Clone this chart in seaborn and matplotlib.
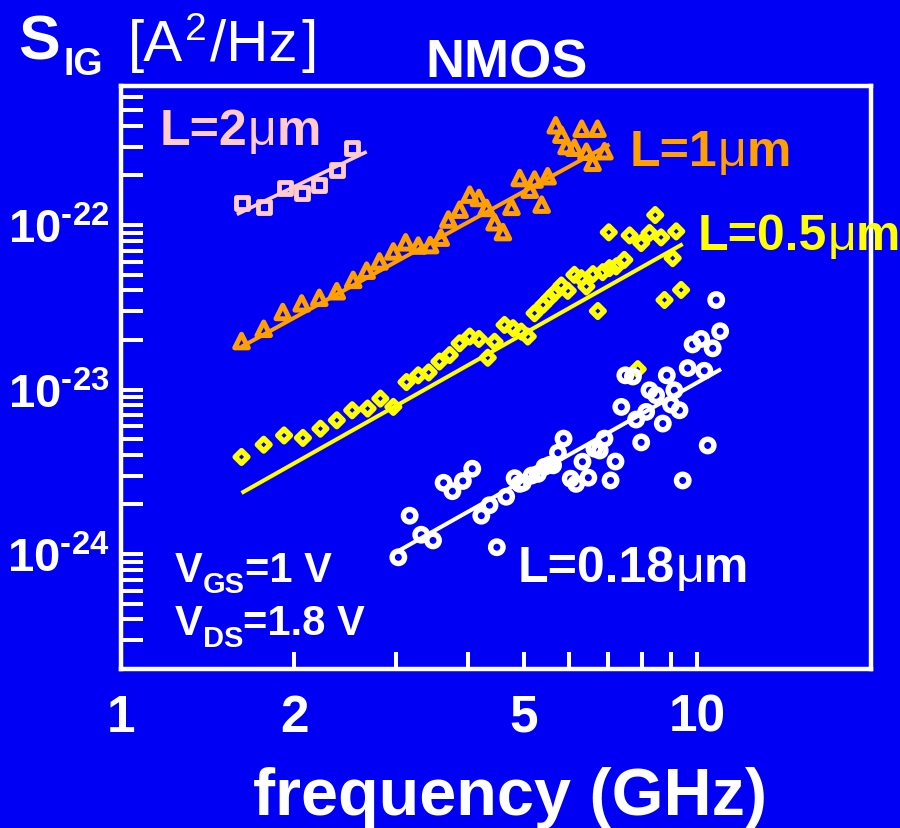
import matplotlib
matplotlib.use("Agg")
import matplotlib.pyplot as plt
import seaborn as sns
import numpy as np
from matplotlib.transforms import IdentityTransform
from matplotlib.ticker import FixedLocator, FixedFormatter, LogLocator, NullFormatter

# ---------------------------------------------------------------- data
# gate current noise S_IG [A^2/Hz] versus frequency [GHz], NMOS, four gate lengths
f_2um = [1.62, 1.77, 1.93, 2.06, 2.21, 2.37, 2.52]
s_2um = [1.36e-22, 1.28e-22, 1.68e-22, 1.57e-22, 1.76e-22, 2.17e-22, 2.92e-22]

f_1um = [1.62, 1.77, 1.91, 2.06, 2.21, 2.37, 2.53, 2.67, 2.81, 2.97,
         3.12, 3.28, 3.44, 3.59, 3.70, 3.87, 4.03, 4.18, 4.31, 4.45,
         4.60, 4.76, 4.92, 5.12, 5.22, 5.37, 5.50, 5.68, 5.81, 5.93,
         6.12, 6.30, 6.42, 6.58, 6.71, 6.90]
s_1um = [1.97e-23, 2.34e-23, 2.96e-23, 3.34e-23, 3.61e-23, 3.96e-23, 4.64e-23, 5.28e-23, 6.01e-23, 6.91e-23,
         7.85e-23, 7.50e-23, 7.55e-23, 8.38e-23, 1.08e-22, 1.24e-22, 1.53e-22, 1.46e-22, 1.27e-22, 1.04e-22,
         9.06e-23, 1.29e-22, 1.93e-22, 1.64e-22, 1.89e-22, 1.33e-22, 1.98e-22, 4.04e-22, 3.54e-22, 3.02e-22,
         2.95e-22, 3.85e-22, 2.79e-22, 2.39e-22, 3.85e-22, 2.81e-22]

f_05um = [1.62, 1.77, 1.92, 2.07, 2.22, 2.37, 2.52, 2.68, 2.82, 2.97,
          3.13, 3.28, 3.42, 3.57, 3.72, 3.87, 4.03, 4.18, 4.33, 4.45,
          4.63, 4.79, 4.95, 5.08, 5.22, 5.40, 5.54, 5.65, 5.81, 5.96,
          6.12, 6.29, 6.42, 6.59, 6.72, 6.85, 7.04, 7.23, 7.47, 7.02,
          7.63, 7.99, 8.26, 8.45, 8.65, 9.19, 9.06, 8.77, 9.37, 7.88]
s_05um = [3.89e-24, 4.62e-24, 5.26e-24, 5.08e-24, 5.78e-24, 6.50e-24, 7.48e-24, 7.66e-24, 8.81e-24, 7.84e-24,
          1.11e-23, 1.22e-23, 1.27e-23, 1.48e-23, 1.62e-23, 1.91e-23, 2.10e-23, 2.03e-23, 1.56e-23, 1.95e-23,
          2.47e-23, 2.36e-23, 2.25e-23, 2.10e-23, 2.91e-23, 3.27e-23, 3.59e-23, 3.85e-23, 4.29e-23, 3.98e-23,
          4.98e-23, 4.75e-23, 4.23e-23, 5.03e-23, 3.00e-23, 5.17e-23, 5.47e-23, 5.60e-23, 6.14e-23, 9.03e-23,
          8.65e-23, 7.77e-23, 8.94e-23, 1.15e-22, 8.41e-23, 9.15e-23, 6.29e-23, 3.50e-23, 4.03e-23, 1.33e-23]

f_018um = [3.03, 3.17, 3.32, 3.48, 3.63, 3.76, 3.92, 4.07, 4.22, 4.36,
           4.49, 4.66, 4.82, 4.92, 4.98, 5.16, 5.29, 5.43, 5.54, 5.62,
           5.73, 5.86, 6.03, 6.16, 6.32, 6.47, 6.63, 6.77, 6.90, 7.07,
           7.21, 7.38, 7.50, 7.73, 7.83, 7.99, 8.15, 8.26, 8.48, 8.71,
           8.85, 9.00, 9.12, 9.31, 9.43, 9.62, 9.81, 10.15, 10.28, 10.42,
           10.63, 10.78, 10.95]
s_018um = [9.55e-25, 1.71e-24, 1.31e-24, 1.21e-24, 2.71e-24, 2.41e-24, 2.78e-24, 3.30e-24, 1.71e-24, 1.98e-24,
           1.10e-24, 2.23e-24, 2.89e-24, 2.67e-24, 2.71e-24, 3.00e-24, 3.07e-24, 3.39e-24, 3.48e-24, 3.46e-24,
           4.13e-24, 5.03e-24, 2.87e-24, 2.67e-24, 3.64e-24, 2.91e-24, 4.37e-24, 4.26e-24, 5.03e-24, 2.80e-24,
           3.65e-24, 7.84e-24, 1.22e-23, 1.20e-23, 6.57e-24, 4.77e-24, 7.31e-24, 9.90e-24, 9.23e-24, 6.21e-24,
           1.22e-23, 8.10e-24, 9.90e-24, 7.48e-24, 2.80e-24, 1.35e-23, 1.88e-23, 2.03e-23, 1.30e-23, 4.57e-24,
           1.78e-23, 3.50e-23, 2.26e-23]

# power-law fit lines (end points)
fit_f_2um = [1.59, 2.67]
fit_s_2um = [1.16e-22, 2.79e-22]
fit_f_1um = [1.62, 7.04]
fit_s_1um = [1.82e-23, 3.09e-22]
fit_f_05um = [1.62, 9.43]
fit_s_05um = [2.35e-24, 7.66e-23]
fit_f_018um = [3.01, 10.99]
fit_s_018um = [1.03e-24, 1.33e-23]

# axes
x_ticks = [1, 2, 5, 10]
x_tick_labels = ["1", "2", "5", "10"]
x_minor = [3, 4, 6, 7, 8, 9]
y_ticks = [1e-24, 1e-23, 1e-22]
y_tick_labels = [r"$\mathbf{10}^{\text{-24}}$", r"$\mathbf{10}^{\text{-23}}$", r"$\mathbf{10}^{\text{-22}}$"]

# ---------------------------------------------------------------- style
BLUE = "#0000F5"
PINK = "#FFCCCC"
ORANGE = "#FF9F00"
YELLOW = "#FFFF00"
WHITE = "#FFFFFF"

sns.set_theme(style="ticks")
plt.rcParams["font.family"] = ["Liberation Sans", "DejaVu Sans"]
plt.rcParams["mathtext.fontset"] = "custom"
plt.rcParams["mathtext.rm"] = "Liberation Sans:bold"
plt.rcParams["mathtext.bf"] = "Liberation Sans:bold"
plt.rcParams["mathtext.it"] = "Liberation Sans:bold"

W, H = 900, 829
fig = plt.figure(figsize=(W / 100, H / 100), dpi=100, facecolor=BLUE)
ax = fig.add_axes([120.7 / W, 1 - 670 / H, (871 - 120.7) / W, (670 - 87) / H], facecolor=BLUE)
ax.set_xscale("log")
ax.set_yscale("log")

# ---------------------------------------------------------------- marks
def points(f, s, marker, size, lw, color):
    sns.scatterplot(x=f, y=s, marker=marker, s=size, color=color, facecolor="none",
                    edgecolor=color, linewidth=lw, ax=ax, zorder=3, legend=False)

def fit(f, s, color, lw):
    sns.lineplot(x=f, y=s, color=color, linewidth=lw, ax=ax, zorder=4,
                 legend=False, solid_capstyle="butt")

points(f_2um, s_2um, "s", 75, 3.5, PINK)
points(f_1um, s_1um, "^", 95, 3.6, ORANGE)
points(f_05um, s_05um, "D", 42, 3.9, YELLOW)
points(f_018um, s_018um, "o", 80, 3.9, WHITE)

fit(fit_f_2um, fit_s_2um, PINK, 2.6)
fit(fit_f_1um, fit_s_1um, ORANGE, 2.9)
fit(fit_f_05um, fit_s_05um, YELLOW, 2.9)
fit(fit_f_018um, fit_s_018um, WHITE, 2.9)

# ---------------------------------------------------------------- axes
ax.set_xlim(1, 20)
ax.set_ylim(2e-25, 7e-22)

ax.xaxis.set_major_locator(FixedLocator(x_ticks))
ax.xaxis.set_major_formatter(FixedFormatter(x_tick_labels))
ax.xaxis.set_minor_locator(FixedLocator(x_minor))
ax.xaxis.set_minor_formatter(NullFormatter())
ax.yaxis.set_major_locator(FixedLocator(y_ticks))
ax.yaxis.set_major_formatter(FixedFormatter(y_tick_labels))
ax.yaxis.set_minor_locator(LogLocator(base=10, subs=np.arange(2, 10), numticks=30))
ax.yaxis.set_minor_formatter(NullFormatter())

ax.tick_params(which="both", direction="in", colors=WHITE, width=2.9,
               top=False, right=False)
ax.tick_params(axis="x", which="both", length=12, pad=17, labelsize=37)
ax.tick_params(axis="y", which="both", length=16, pad=8, labelsize=34)
for lab in ax.get_xticklabels():
    lab.set_fontweight("bold")

for side in ["left", "right", "top", "bottom"]:
    ax.spines[side].set_color(WHITE)
    ax.spines[side].set_linewidth(3.2)
    ax.spines[side].set_zorder(2)

ax.set_xlabel("frequency (GHz)", fontsize=48, fontweight="bold", color=WHITE)
ax.xaxis.set_label_coords((510 - 120.7) / (871 - 120.7), (670 - 815) / (670 - 87))
ax.xaxis.label.set_verticalalignment("baseline")
ax.set_ylabel("")

# ---------------------------------------------------------------- text
renderer = fig.canvas.get_renderer()

def text_runs(x, y, parts, color):
    """Write consecutive pieces of text on one baseline (pixel coordinates, y downwards);
    each piece is (string, size, weight, baseline shift, gap before)."""
    for s, size, weight, dy, gap in parts:
        t = fig.text(x + gap, H - (y + dy), s, fontsize=size, fontweight=weight, color=color,
                     ha="left", va="baseline", transform=IdentityTransform(), zorder=5)
        x = t.get_window_extent(renderer).x1

text_runs(18, 60, [("S", 45, "bold", 0, 0), ("IG", 27, "bold", 15, 4)], WHITE)
text_runs(128, 61, [("[A", 42, "normal", 0, 0), ("2", 28, "normal", -21, 2),
                    ("/Hz", 42, "normal", 0, 3), ("]", 42, "normal", 0, 4)], WHITE)
text_runs(425, 78, [("NMOS", 39, "bold", 0, 0)], WHITE)

def length_label(x, y, value, color):
    text_runs(x, y, [("L=" + value, 36, "bold", 0, 0), ("\u03bc", 36, "normal", 0, 0),
                     ("m", 36, "bold", 0, 0)], color)

length_label(160, 145, "2", PINK)
length_label(630, 166, "1", ORANGE)
length_label(698, 250, "0.5", YELLOW)
length_label(518, 582, "0.18", WHITE)

text_runs(175, 582, [("V", 30, "bold", 0, 0), ("GS", 21, "bold", 11, 0),
                     ("=1 V", 30, "bold", 0, 0)], WHITE)
text_runs(175, 635, [("V", 30, "bold", 0, 0), ("DS", 21, "bold", 12, 0),
                     ("=1.8 V", 30, "bold", 0, 0)], WHITE)

fig.savefig("out.png", dpi=100, facecolor=BLUE)
